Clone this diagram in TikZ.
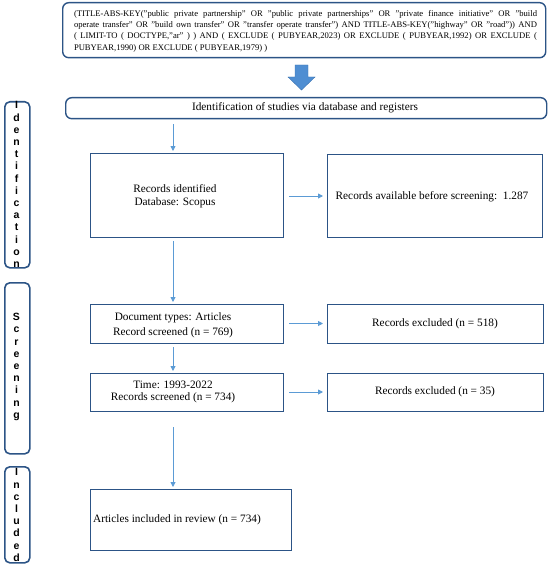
\documentclass[tikz,border=0pt]{standalone}
\usepackage{fontspec}
\setmainfont{Liberation Serif}
\setsansfont{Liberation Sans}
\usetikzlibrary{arrows.meta,calc}
\definecolor{boxblue}{HTML}{2C5486}
\definecolor{arrblue}{HTML}{5B9BD5}
\definecolor{bigarr}{HTML}{4F8ED2}
\definecolor{bigarredge}{HTML}{3C73B0}
\tikzset{
  bx/.style={draw=boxblue, line width=1.4pt, rectangle, inner sep=0pt, anchor=north west},
  rbx/.style={bx, rounded corners=6pt},
  sidebox/.style={draw=boxblue, line width=1.6pt, rounded corners=5pt, inner sep=0pt, anchor=north west, minimum width=25pt},
  sidetxt/.style={font=\sffamily\bfseries\fontsize{10.5}{12.2}\selectfont, align=center, inner sep=0pt},
  txt/.style={font=\fontsize{11.3}{12.5}\selectfont, align=center, inner sep=0pt},
  arr/.style={draw=arrblue, line width=0.9pt, -{Triangle[length=5pt,width=5pt]}},
}
\begin{document}
\begin{tikzpicture}[x=1pt,y=-1pt]
\useasboundingbox (0,0) rectangle (550,567);
% top query box
\node[rbx, minimum width=483pt, minimum height=55pt] (q) at (62,2) {};
\node[font=\fontsize{8.6}{11.3}\selectfont, text width=463pt, align=justify, inner sep=0pt] (qt) at (305.5,31)
{(TITLE-ABS-KEY("public private partnership" OR "public private partnerships" OR "private finance initiative" OR "build\linebreak
operate transfer" OR "build own transfer" OR "transfer operate transfer") AND TITLE-ABS-KEY("highway" OR "road")) AND\linebreak
( LIMIT-TO ( DOCTYPE,"ar" ) ) AND ( EXCLUDE ( PUBYEAR,2023) OR EXCLUDE ( PUBYEAR,1992) OR EXCLUDE (\linebreak
PUBYEAR,1990) OR EXCLUDE ( PUBYEAR,1979) )\hfill\null};
% identification header
\node[rbx, minimum width=481pt, minimum height=21pt] (id) at (65,97) {};
\node[txt] (idt) at (305,107.5) {Identification of studies via database and registers};
% block arrow
\fill[bigarr, draw=bigarredge, line width=0.4pt] (295,65) -- (308,65) -- (308,77) -- (315,77) -- (301.5,90) -- (288,77) -- (295,77) -- cycle;
% side labels
\node[sidebox, minimum height=166pt] (sid) at (4,101) {};
\node[sidetxt] (sidt) at (16.5,184.5) {I\\d\\e\\n\\t\\i\\f\\i\\c\\a\\t\\i\\o\\n};
\node[sidebox, minimum height=171pt] (ssc) at (4,282) {};
\node[sidetxt] (ssct) at (16.5,367) {S\\c\\r\\e\\e\\n\\i\\n\\g};
\node[sidebox, minimum height=96pt] (sin) at (4,466) {};
\node[sidetxt] (sint) at (16.5,515) {I\\n\\c\\l\\u\\d\\e\\d};
% boxes
\node[bx, minimum width=193pt, minimum height=84pt] (ri) at (90,153) {};
\node[txt] (rit) at (175,196) {Records identified\\Database: Scopus};
\node[bx, minimum width=215pt, minimum height=83pt] (ra) at (327,154) {};
\node[txt] (rat) at (432,197) {Records available before screening:\ \ 1.287};
\node[bx, minimum width=193pt, minimum height=39pt] (dt) at (90,304) {};
\node[txt, font=\fontsize{11.3}{15}\selectfont] (dtt) at (173,325) {Document types: Articles\\Record screened (n = 769)};
\node[bx, minimum width=216pt, minimum height=39pt] (e1) at (327,304) {};
\node[txt] (e1t) at (435,323.5) {Records excluded (n = 518)};
\node[bx, minimum width=193pt, minimum height=38pt] (tm) at (90,373) {};
\node[txt] (tmt) at (173,392) {Time: 1993-2022\\Records screened (n = 734)};
\node[bx, minimum width=216pt, minimum height=38pt] (e2) at (327,373) {};
\node[txt] (e2t) at (435,392) {Records excluded (n = 35)};
\node[bx, minimum width=201pt, minimum height=61pt] (inc) at (90,489) {};
\node[txt] (inct) at (177,520) {Articles included in review (n = 734)};
% connectors
\coordinate (cx) at (173,0);
\draw[arr, shorten <=5pt, shorten >=2pt] (id.south -| cx) -- (ri.north -| cx);
\draw[arr, shorten <=5pt, shorten >=4pt] (ri.east |- rit) -- (ra.west |- rit);
\draw[arr, shorten <=3pt, shorten >=2pt] (ri.south -| cx) -- (dt.north -| cx);
\draw[arr, shorten <=5pt, shorten >=4pt] (dt.east |- e1t) -- (e1.west |- e1t);
\draw[arr, shorten <=3pt, shorten >=2pt] (dt.south -| cx) -- (tm.north -| cx);
\draw[arr, shorten <=5pt, shorten >=4pt] (tm.east |- e2t) -- (e2.west |- e2t);
\draw[arr, shorten <=15pt, shorten >=2pt] (tm.south -| cx) -- (inc.north -| cx);
\end{tikzpicture}
\end{document}
